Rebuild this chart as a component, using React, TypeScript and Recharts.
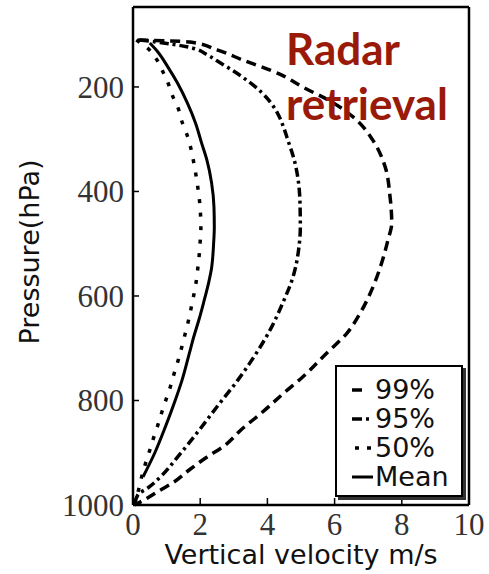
import { Line, LineChart, XAxis, YAxis } from "recharts";

// pressure levels (hPa) and vertical velocity (m/s)
const p99 = [110, 114, 129, 148, 175, 200, 230, 263, 300, 352, 410, 460, 495, 537, 583, 633, 671, 709, 755, 784, 824, 856, 885, 910, 933, 956, 975, 987, 1000];
const v99 = [0.15, 1.7, 2.5, 3.25, 4.35, 5.05, 5.95, 6.65, 7.12, 7.5, 7.65, 7.7, 7.58, 7.4, 7.14, 6.76, 6.37, 5.77, 5.05, 4.52, 3.82, 3.22, 2.75, 2.16, 1.67, 1.22, 0.72, 0.42, 0.05];

const p95 = [110, 114, 123, 140, 150, 172, 210, 230, 250, 275, 300, 340, 380, 422, 470, 500, 564, 613, 665, 728, 761, 812, 860, 908, 946, 967, 980, 1000];
const v95 = [0.2, 0.7, 1.6, 2.25, 2.5, 3.05, 3.82, 4.1, 4.3, 4.47, 4.6, 4.8, 4.92, 4.97, 4.98, 4.95, 4.76, 4.46, 4.08, 3.48, 3.12, 2.5, 1.93, 1.33, 0.82, 0.45, 0.15, 0.05];

const p50 = [110, 125, 148, 171, 192, 219, 240, 267, 292, 317, 342, 367, 393, 418, 445, 470, 495, 522, 546, 573, 598, 623, 650, 673, 698, 724, 747, 774, 797, 822, 847, 872, 899, 923, 948, 975, 1000];
const v50 = [0.1, 0.42, 0.71, 0.89, 1.04, 1.19, 1.34, 1.46, 1.61, 1.72, 1.8, 1.87, 1.93, 1.98, 2.01, 2.02, 2.0, 1.97, 1.93, 1.88, 1.81, 1.73, 1.64, 1.55, 1.45, 1.34, 1.23, 1.11, 0.99, 0.86, 0.74, 0.61, 0.48, 0.36, 0.25, 0.15, 0.05];

const pMean = [116, 133, 162, 192, 231, 269, 307, 340, 384, 430, 468, 499, 550, 575, 613, 646, 680, 709, 761, 799, 851, 900, 946];
const vMean = [0.5, 0.74, 1.04, 1.32, 1.62, 1.86, 2.04, 2.2, 2.34, 2.41, 2.42, 2.4, 2.33, 2.25, 2.1, 1.96, 1.8, 1.68, 1.46, 1.26, 0.96, 0.65, 0.3];

const xTicks = [0, 2, 4, 6, 8, 10];
const yTicks = [200, 400, 600, 800, 1000];

const zip = (p: number[], v: number[]) => p.map((pp, i) => ({ p: pp, v: v[i] }));

const SERIES = [
  { name: "99%", data: zip(p99, v99), dash: "10 6", key: "10 11", width: 3.5 },
  { name: "95%", data: zip(p95, v95), dash: "9 4 3 4", key: "10 4 3 4", width: 3.5 },
  { name: "50%", data: zip(p50, v50), dash: "4 9.5", key: "0 3 4 8 4 2", width: 3.5 },
  { name: "Mean", data: zip(pMean, vMean), dash: undefined, key: undefined, width: 3 },
];

const tickFont = { fontFamily: "Liberation Serif", fontSize: 31, fill: "#333" };
const axisLine = { stroke: "#000", strokeWidth: 2.5 };
const tickLine = { stroke: "#000", strokeWidth: 1.5 };
const sans = "DejaVu Sans";

export default function App() {
  return (
    <div style={{ position: "absolute", left: 0, top: 0, width: 489, height: 574, background: "#fff" }}>
      <LineChart width={489} height={574} margin={{ top: 6, right: 19, bottom: 0, left: 0 }}>
        <XAxis
          dataKey="v"
          type="number"
          domain={[0, 10]}
          ticks={xTicks}
          height={69}
          tickSize={-7}
          tickMargin={15}
          tick={tickFont}
          axisLine={axisLine}
          tickLine={tickLine}
        />
        <XAxis
          xAxisId="top"
          orientation="top"
          type="number"
          domain={[0, 10]}
          ticks={[2, 4, 6, 8]}
          height={1}
          tickSize={-7}
          tick={false}
          axisLine={axisLine}
          tickLine={tickLine}
        />
        <YAxis
          type="number"
          domain={[47, 1000]}
          reversed
          ticks={yTicks}
          width={133}
          tickSize={-6}
          tickMargin={15}
          tick={tickFont}
          axisLine={axisLine}
          tickLine={tickLine}
        />
        <YAxis
          yAxisId="right"
          orientation="right"
          type="number"
          domain={[47, 1000]}
          reversed
          width={1}
          tick={false}
          tickLine={false}
          axisLine={axisLine}
        />
        {SERIES.map((s) => (
          <Line
            key={s.name}
            data={s.data}
            dataKey="p"
            type="monotoneY"
            stroke="#000"
            strokeWidth={s.width}
            strokeDasharray={s.dash}
            dot={false}
            isAnimationActive={false}
          />
        ))}
      </LineChart>

      <div
        style={{
          position: "absolute",
          left: 0,
          top: 539,
          width: 602,
          textAlign: "center",
          fontFamily: sans,
          fontSize: 27,
          lineHeight: "32px",
          color: "#111",
          whiteSpace: "nowrap",
        }}
      >
        Vertical velocity m/s
      </div>
      <div
        style={{
          position: "absolute",
          left: 30,
          top: 252,
          transform: "translate(-50%, -50%) rotate(-90deg)",
          fontFamily: sans,
          fontSize: 27,
          lineHeight: "32px",
          color: "#111",
          whiteSpace: "nowrap",
        }}
      >
        Pressure(hPa)
      </div>
      <div
        style={{
          position: "absolute",
          left: 286,
          top: 21,
          fontFamily: "Lato",
          fontWeight: 700,
          fontSize: 44,
          lineHeight: "55px",
          color: "#9a1a0a",
        }}
      >
        Radar
        <br />
        retrieval
      </div>

      <div
        style={{
          position: "absolute",
          left: 335,
          top: 365,
          width: 128,
          height: 132,
          boxSizing: "border-box",
          border: "2px solid #000",
          boxShadow: "3px 3px 0 #333",
          background: "#fff",
          paddingTop: 8,
        }}
      >
        {SERIES.map((s) => (
          <div key={s.name} style={{ display: "flex", alignItems: "center", height: 29 }}>
            <svg width={21} height={10} style={{ marginLeft: 15, marginRight: 2 }}>
              <line x1={0} y1={5} x2={21} y2={5} stroke="#000" strokeWidth={s.width} strokeDasharray={s.key} />
            </svg>
            <span style={{ fontFamily: sans, fontSize: 27, color: "#111", lineHeight: "29px" }}>{s.name}</span>
          </div>
        ))}
      </div>
    </div>
  );
}
